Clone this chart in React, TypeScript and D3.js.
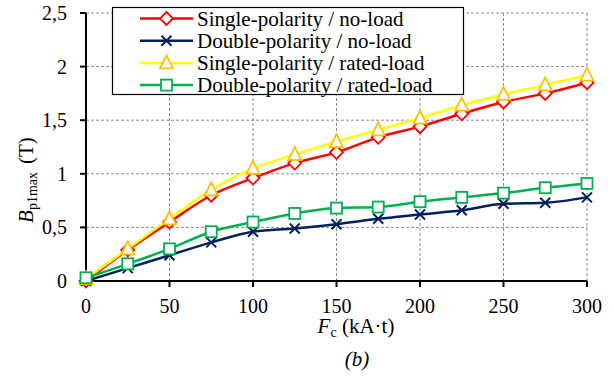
import { useEffect, useRef } from "react"
import * as d3 from "d3"

const fc = [0, 25, 50, 75, 100, 125, 150, 175, 200, 225, 250, 275, 300]
const singleNoLoad = [0.0, 0.29, 0.55, 0.8, 0.96, 1.1, 1.2, 1.34, 1.44, 1.56, 1.67, 1.75, 1.85]
const doubleNoLoad = [0.0, 0.12, 0.24, 0.36, 0.46, 0.49, 0.53, 0.58, 0.62, 0.66, 0.72, 0.73, 0.78]
const singleRated = [0.02, 0.3, 0.58, 0.85, 1.05, 1.18, 1.3, 1.41, 1.52, 1.64, 1.74, 1.83, 1.92]
const doubleRated = [0.03, 0.16, 0.3, 0.46, 0.55, 0.63, 0.68, 0.69, 0.74, 0.78, 0.82, 0.87, 0.91]
const xTicks = [0, 50, 100, 150, 200, 250, 300]
const yTicks = [0, 0.5, 1, 1.5, 2, 2.5]
const seriesNames = [
  "Single-polarity / no-load",
  "Double-polarity / no-load",
  "Single-polarity / rated-load",
  "Double-polarity / rated-load",
]

type Marker = "diamond" | "x" | "triangle" | "square"

const series: { name: string; values: number[]; line: string; mark: string; marker: Marker }[] = [
  { name: seriesNames[0], values: singleNoLoad, line: "#ff0000", mark: "#ff0000", marker: "diamond" },
  { name: seriesNames[1], values: doubleNoLoad, line: "#002060", mark: "#002060", marker: "x" },
  { name: seriesNames[2], values: singleRated, line: "#ffff00", mark: "#ffc000", marker: "triangle" },
  { name: seriesNames[3], values: doubleRated, line: "#00b050", mark: "#00b050", marker: "square" },
]

const FONT = "Liberation Serif, Tinos, Times New Roman, Times, DejaVu Serif, serif"

function drawMarker(g: d3.Selection<SVGGElement, unknown, null, undefined>, kind: Marker, cx: number, cy: number, color: string) {
  if (kind === "diamond") {
    const r = 6.5
    g.append("path")
      .attr("d", `M${cx},${cy - r}L${cx + r},${cy}L${cx},${cy + r}L${cx - r},${cy}Z`)
      .attr("fill", "white").attr("stroke", color).attr("stroke-width", 1.8)
  } else if (kind === "square") {
    const r = 5.5
    g.append("rect")
      .attr("x", cx - r).attr("y", cy - r).attr("width", 2 * r).attr("height", 2 * r)
      .attr("fill", "white").attr("stroke", color).attr("stroke-width", 1.8)
  } else if (kind === "triangle") {
    const r = 6.5
    g.append("path")
      .attr("d", `M${cx},${cy - r - 1}L${cx + r},${cy + r - 1}L${cx - r},${cy + r - 1}Z`)
      .attr("fill", "white").attr("stroke", color).attr("stroke-width", 1.8)
  } else {
    const r = 5
    g.append("path")
      .attr("d", `M${cx - r},${cy - r}L${cx + r},${cy + r}M${cx - r},${cy + r}L${cx + r},${cy - r}`)
      .attr("fill", "none").attr("stroke", color).attr("stroke-width", 2)
  }
}

export default function App() {
  const svgRef = useRef<SVGSVGElement>(null)
  const width = 614
  const height = 376

  useEffect(() => {
    if (!svgRef.current) return
    const svg = d3.select(svgRef.current)
    svg.selectAll("*").remove()

    const x = d3.scaleLinear().domain([0, 300]).range([86, 587])
    const y = d3.scaleLinear().domain([0, 2.5]).range([281, 13])

    svg.append("rect").attr("width", width).attr("height", height).attr("fill", "white")

    // grid
    const grid = svg.append("g").attr("stroke", "#8c8c8c").attr("stroke-width", 1).attr("stroke-dasharray", "3,2")
    xTicks.filter(t => t > 0).forEach(t => {
      grid.append("line").attr("x1", x(t)).attr("x2", x(t)).attr("y1", y(0)).attr("y2", y(2.5))
    })
    yTicks.filter(t => t > 0).forEach(t => {
      grid.append("line").attr("x1", x(0)).attr("x2", x(300)).attr("y1", y(t)).attr("y2", y(t))
    })

    // axes
    const axes = svg.append("g").attr("stroke", "black").attr("stroke-width", 2)
    axes.append("line").attr("x1", x(0)).attr("x2", x(0)).attr("y1", y(2.5)).attr("y2", y(0) + 1)
    axes.append("line").attr("x1", x(0) - 1).attr("x2", x(300)).attr("y1", y(0)).attr("y2", y(0))
    yTicks.forEach(t => {
      axes.append("line").attr("x1", x(0) - 6).attr("x2", x(0)).attr("y1", y(t)).attr("y2", y(t))
    })
    xTicks.forEach(t => {
      axes.append("line").attr("x1", x(t)).attr("x2", x(t)).attr("y1", y(0)).attr("y2", y(0) + 6)
    })

    // tick labels
    svg.append("g")
      .selectAll("text")
      .data(yTicks)
      .enter()
      .append("text")
      .attr("x", 67)
      .attr("y", d => y(d) + 7)
      .attr("text-anchor", "end")
      .style("font-family", FONT)
      .style("font-size", "20px")
      .text(d => String(d).replace(".", ","))

    svg.append("g")
      .selectAll("text")
      .data(xTicks)
      .enter()
      .append("text")
      .attr("x", d => x(d))
      .attr("y", 313)
      .attr("text-anchor", "middle")
      .style("font-family", FONT)
      .style("font-size", "20px")
      .text(d => d)

    // series
    const line = d3
      .line<number>()
      .x((_, i) => x(fc[i]))
      .y(d => y(d))
      .curve(d3.curveMonotoneX)

    series.forEach(s => {
      svg.append("path")
        .datum(s.values)
        .attr("fill", "none")
        .attr("stroke", s.line)
        .attr("stroke-width", 2.5)
        .attr("d", line)
      const mg = svg.append("g")
      s.values.forEach((v, i) => drawMarker(mg, s.marker, x(fc[i]), y(v), s.mark))
    })

    // legend
    const lg = svg.append("g")
    lg.append("rect")
      .attr("x", 112.5).attr("y", 7.5).attr("width", 351).attr("height", 87)
      .attr("fill", "white").attr("stroke", "black").attr("stroke-width", 1.2)
    series.forEach((s, i) => {
      const cy = 18.5 + i * 22.2
      lg.append("line").attr("x1", 140).attr("x2", 193).attr("y1", cy).attr("y2", cy)
        .attr("stroke", s.line).attr("stroke-width", 2.5)
      drawMarker(lg, s.marker, 166.5, cy, s.mark)
      lg.append("text")
        .attr("x", 197)
        .attr("y", cy + 7)
        .style("font-family", FONT)
        .style("font-size", "21px")
        .text(s.name)
    })

    // axis titles
    const xt = svg.append("text")
      .attr("x", 356)
      .attr("y", 333)
      .attr("text-anchor", "middle")
      .style("font-family", FONT)
      .style("font-size", "21px")
    xt.append("tspan").style("font-style", "italic").text("F")
    xt.append("tspan").attr("dy", 4).style("font-size", "14px").text("c")
    xt.append("tspan").attr("dy", -4).text(" (kA·t)")

    const yt = svg.append("text")
      .attr("transform", `translate(33,180) rotate(-90)`)
      .attr("text-anchor", "middle")
      .style("font-family", FONT)
      .style("font-size", "21px")
    yt.append("tspan").style("font-style", "italic").text("B")
    yt.append("tspan").attr("dy", 4).style("font-size", "14px").text("p1max")
    yt.append("tspan").attr("dy", -4).attr("dx", 8).text("(T)")

    svg.append("text")
      .attr("x", 357)
      .attr("y", 366)
      .attr("text-anchor", "middle")
      .style("font-family", FONT)
      .style("font-size", "21px")
      .style("font-style", "italic")
      .text("(b)")
  }, [])

  return (
    <svg
      ref={svgRef}
      width={width}
      height={height}
      style={{ position: "absolute", left: 0, top: 0 }}
    />
  )
}
